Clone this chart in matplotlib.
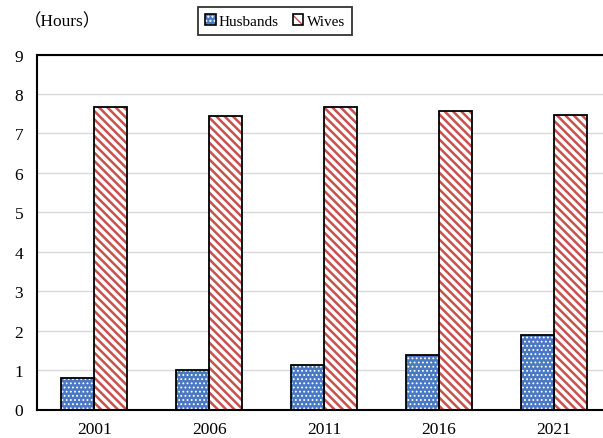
import matplotlib
matplotlib.use("Agg")
import matplotlib.pyplot as plt
from matplotlib.patches import Patch
import numpy as np

years = ["2001", "2006", "2011", "2016", "2021"]
husbands = [0.80, 1.00, 1.12, 1.38, 1.90]
wives = [7.68, 7.45, 7.68, 7.57, 7.47]
yticks = list(range(0, 10))

plt.rcParams["font.family"] = ["Liberation Serif", "DejaVu Serif"]

blue = "#4A78C2"
red = "#C9504C"

fig = plt.figure(figsize=(6.03, 4.39), dpi=100)
ax = fig.add_axes([37 / 603, 28.5 / 439, 574 / 603, 355 / 439])

x = np.arange(len(years))
w = 0.288

with plt.rc_context({"hatch.linewidth": 0.8}):
    ax.bar(x - w / 2, husbands, w, color=blue, edgecolor="white",
           hatch="....", linewidth=0, zorder=2)
with plt.rc_context({"hatch.linewidth": 1.8}):
    ax.bar(x + w / 2, wives, w, color="white", edgecolor=red,
           hatch="\\\\\\\\", linewidth=0, zorder=2)
ax.bar(x - w / 2, husbands, w, fill=False, edgecolor="black", linewidth=1.3, zorder=3)
ax.bar(x + w / 2, wives, w, fill=False, edgecolor="black", linewidth=1.3, zorder=3)

ax.set_xlim(-0.5, len(years) - 0.5)
ax.set_ylim(0, 9)
ax.set_yticks(yticks)
ax.set_xticks(x)
ax.set_xticklabels(years)
ax.tick_params(axis="both", length=0, labelsize=12.5)
ax.tick_params(axis="y", pad=10)
ax.tick_params(axis="x", pad=8)
ax.yaxis.grid(True, color="#D9D9D9", linewidth=1.0, zorder=0)
ax.set_axisbelow(True)
for side in ["left", "top", "bottom"]:
    ax.spines[side].set_linewidth(1.5)
    ax.spines[side].set_color("black")
ax.spines["right"].set_visible(False)

fig.text(24 / 603, 1 - 22 / 439, "（Hours）", fontsize=12.5, va="center", ha="left",
         family=["Liberation Serif", "Noto Sans CJK JP"])

with plt.rc_context({"hatch.linewidth": 0.8}):
    h_husb = Patch(facecolor=blue, edgecolor="white", hatch="....", linewidth=0)
with plt.rc_context({"hatch.linewidth": 1.5}):
    h_wife = Patch(facecolor="white", edgecolor=red, hatch="\\\\\\", linewidth=0)
handles = [h_husb, h_wife]
leg = fig.legend(handles, ["Husbands", "Wives"], loc="center",
                 bbox_to_anchor=(275 / 603, 1 - 22 / 439), ncol=2,
                 fontsize=11, frameon=True, fancybox=False,
                 edgecolor="black", handlelength=0.7, handleheight=0.7,
                 handletextpad=0.2, columnspacing=0.9, borderpad=0.45)
leg.get_frame().set_linewidth(1.3)

# black outline boxes around the legend swatches
fig.canvas.draw()
inv = fig.transFigure.inverted()
for p in leg.get_patches():
    bb = p.get_window_extent()
    (x0, y0), (x1, y1) = inv.transform([[bb.x0, bb.y0], [bb.x1, bb.y1]])
    fig.add_artist(plt.Rectangle((x0, y0), x1 - x0, y1 - y0, fill=False,
                                 edgecolor="black", linewidth=1.2,
                                 transform=fig.transFigure, zorder=10))

fig.savefig("out.png", dpi=100)
